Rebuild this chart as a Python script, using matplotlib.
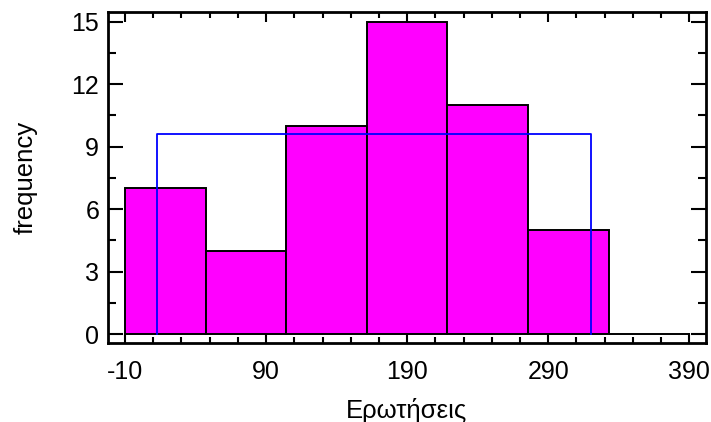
import numpy as np
import matplotlib.pyplot as plt
from matplotlib.ticker import MultipleLocator

plt.rcParams['font.family'] = ['Liberation Sans', 'DejaVu Sans']
plt.rcParams['axes.unicode_minus'] = False

# histogram data
bin_edges = np.linspace(-10, 390, 8)
counts = [7, 4, 10, 15, 11, 5, 0]

# fitted uniform distribution (scaled to frequency)
unif_lo = 12.7
unif_hi = 320.5
unif_height = 9.6

fig = plt.figure(figsize=(7.11, 4.22), dpi=100)
ax = fig.add_axes([0.1512, 0.1872, 0.8413, 0.7837])

ax.bar(bin_edges[:-1], counts, width=np.diff(bin_edges), align='edge',
       color='#ff00ff', edgecolor='black', linewidth=1.4, zorder=2)
ax.plot([unif_lo, unif_lo, unif_hi, unif_hi], [0, unif_height, unif_height, 0],
        color='#0000ff', linewidth=1.3, zorder=3)

ax.set_xlim(-22.4, 401.6)
ax.set_ylim(-0.42, 15.45)
ax.set_xticks([-10, 90, 190, 290, 390])
ax.set_xticks(np.arange(-10, 391, 20), minor=True)
ax.set_yticks([0, 3, 6, 9, 12, 15])
ax.yaxis.set_minor_locator(MultipleLocator(1.5))

ax.tick_params(which='both', direction='in', top=True, right=True,
               labelsize=18, width=1.5)
ax.tick_params(axis='x', which='major', length=7, pad=12)
ax.tick_params(axis='x', which='minor', length=4)
ax.tick_params(axis='y', which='major', length=11, pad=6)
ax.tick_params(axis='y', which='minor', length=6)
for s in ax.spines.values():
    s.set_linewidth(2)

ax.set_xlabel('Ερωτήσεις', fontsize=18.5, labelpad=10)
ax.set_ylabel('frequency', fontsize=18.5, labelpad=24)

fig.savefig('out.png', dpi=100)
